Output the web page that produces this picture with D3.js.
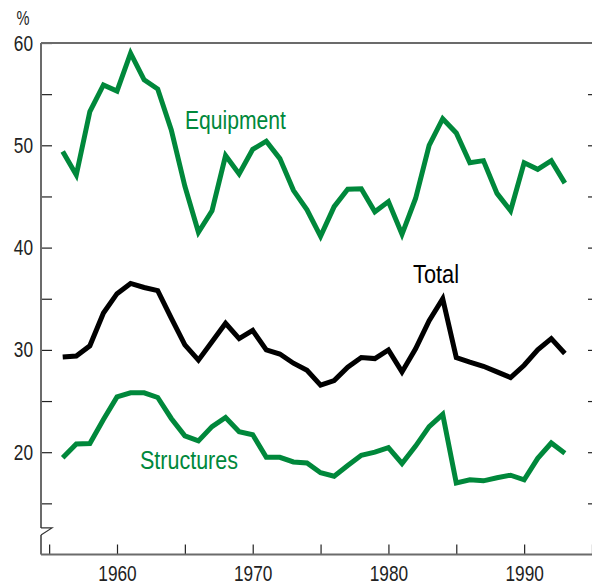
<!DOCTYPE html>
<html>
<head>
<meta charset="utf-8">
<script src="https://cdn.jsdelivr.net/npm/d3@7"></script>
<style>
  html, body { margin: 0; padding: 0; background: #fff; }
  svg text { font-family: 'Liberation Sans', Arial, sans-serif; }
</style>
</head>
<body>
<main></main>
<script>
// data: share of investment (%), 1956-1993
const years = d3.range(1956, 1994);
const equipment = [49.4, 47.1, 53.3, 55.9, 55.3, 59.0, 56.4, 55.5, 51.5, 46.0,
  41.5, 43.6, 49.0, 47.2, 49.6, 50.4, 48.7, 45.6, 43.7, 41.1,
  44.0, 45.7, 45.75, 43.5, 44.5, 41.3, 44.8, 50.0, 52.6, 51.2,
  48.3, 48.5, 45.3, 43.6, 48.3, 47.65, 48.5, 46.3];
const total = [29.3, 29.4, 30.4, 33.6, 35.5, 36.5, 36.1, 35.8, 33.1, 30.5,
  29.0, 30.8, 32.6, 31.1, 31.9, 30.0, 29.6, 28.7, 28.0, 26.55,
  27.0, 28.3, 29.25, 29.15, 30.0, 27.85, 30.1, 32.85, 35.0, 29.25,
  28.8, 28.4, 27.85, 27.3, 28.5, 30.0, 31.1, 29.65];
const structures = [19.45, 20.8, 20.85, 23.2, 25.4, 25.8, 25.8, 25.35, 23.3, 21.6,
  21.1, 22.5, 23.4, 22.0, 21.7, 19.5, 19.5, 19.05, 18.95, 18.0,
  17.65, 18.7, 19.7, 20.0, 20.45, 18.9, 20.6, 22.5, 23.7, 17.0,
  17.3, 17.2, 17.5, 17.75, 17.3, 19.4, 20.9, 19.9];
const yLabels = [20, 30, 40, 50, 60];
const yTicks = [15, 20, 25, 30, 35, 40, 45, 50, 55, 60];
const xLabels = [1960, 1970, 1980, 1990];
const xTicks = [1955, 1960, 1965, 1970, 1975, 1980, 1985, 1990, 1995];

const width = 592;
const height = 585;
const green = '#00883b';
const grey = '#6b6b6b';
const digitWidth = 9.6; // no condensed face installed, so squeeze the text
const textColor = '#222';

const svg = d3.select('main')
  .append('svg')
  .attr('width', width)
  .attr('height', height);

/************************************************************************
  scales
************************************************************************/
const xScale = d3.scaleLinear()
  .domain([1954.4, 1995])
  .range([41, 592]);

const yScale = d3.scaleLinear()
  .domain([10, 60])
  .range([554.5, 43]);

const plotLeft = xScale.range()[0];
const plotRight = xScale.range()[1];
const plotTop = yScale.range()[1];
const plotBottom = yScale.range()[0];

const squeeze = (selection) => selection
  .filter(function () { return this.textContent !== ''; })
  .attr('textLength', function () { return this.textContent.length * digitWidth; })
  .attr('lengthAdjust', 'spacingAndGlyphs');

/************************************************************************
  axes
************************************************************************/
// left axis: ticks point inward, labels only every 10
const yAxis = d3.axisLeft(yScale)
  .tickValues(yTicks)
  .tickSizeInner(-11)
  .tickSizeOuter(0)
  .tickPadding(8)
  .tickFormat(d => yLabels.includes(d) ? d : '');

const yAxisG = svg.append('g')
  .attr('transform', `translate(${plotLeft}, 0)`)
  .call(yAxis);
yAxisG.select('.domain').remove();
yAxisG.selectAll('line').attr('stroke', textColor).attr('stroke-width', 1.2);
yAxisG.selectAll('text')
  .attr('font-size', 22)
  .attr('fill', textColor)
  .call(squeeze);
yAxisG.attr('font-family', null);

// right side ticks (axis itself is off the edge)
const yAxisRight = d3.axisRight(yScale)
  .tickValues(yTicks.filter(d => d < 60))
  .tickSizeInner(-4)
  .tickSizeOuter(0)
  .tickFormat('');
const yRightG = svg.append('g')
  .attr('transform', `translate(${plotRight}, 0)`)
  .call(yAxisRight);
yRightG.select('.domain').remove();
yRightG.selectAll('line').attr('stroke', textColor).attr('stroke-width', 1.2);

// bottom axis: ticks point up
const xAxis = d3.axisBottom(xScale)
  .tickValues(xTicks)
  .tickSizeInner(-10)
  .tickSizeOuter(0)
  .tickPadding(11)
  .tickFormat(d => xLabels.includes(d) ? d : '');

const xAxisG = svg.append('g')
  .attr('transform', `translate(0, ${plotBottom})`)
  .call(xAxis);
xAxisG.select('.domain').remove();
xAxisG.selectAll('line').attr('stroke', textColor).attr('stroke-width', 1.2);
xAxisG.selectAll('text')
  .attr('font-size', 22)
  .attr('fill', textColor)
  .call(squeeze);
xAxisG.attr('font-family', null);

// frame lines: top, left (with a break), bottom
const breakTop = yScale(12.6);
const breakBottom = yScale(11.9);
const frame = [
  [[plotLeft, plotTop], [plotRight, plotTop]],
  [[plotLeft, plotTop], [plotLeft, breakTop]],
  [[plotLeft, breakBottom], [plotLeft, plotBottom]],
  [[plotLeft, plotBottom], [plotRight, plotBottom]]
];
svg.selectAll('.frame')
  .data(frame)
  .enter()
  .append('path')
  .attr('class', 'frame')
  .attr('d', d3.line())
  .attr('fill', 'none')
  .attr('stroke', grey)
  .attr('stroke-width', 2);

// axis break mark
svg.append('path')
  .attr('d', d3.line()([[plotLeft, breakTop], [plotLeft + 11, breakTop], [plotLeft, breakBottom]]))
  .attr('fill', 'none')
  .attr('stroke', '#333')
  .attr('stroke-width', 1.2);

svg.append('text')
  .text('%')
  .attr('x', 23)
  .attr('y', 25)
  .attr('text-anchor', 'middle')
  .attr('font-size', 20)
  .attr('textLength', 13)
  .attr('lengthAdjust', 'spacingAndGlyphs')
  .attr('fill', textColor);

/************************************************************************
  lines
************************************************************************/
const series = [
  { name: 'Equipment', values: equipment, color: green, lx: 185, ly: 129, len: 101 },
  { name: 'Total', values: total, color: '#000', lx: 413, ly: 283, len: 46 },
  { name: 'Structures', values: structures, color: green, lx: 140, ly: 469, len: 98 }
];

const line = d3.line()
  .x((d, i) => xScale(years[i]))
  .y(d => yScale(d));

series.forEach(s => {
  svg.append('path')
    .attr('d', line(s.values))
    .attr('fill', 'none')
    .attr('stroke', s.color)
    .attr('stroke-width', 5)
    .attr('stroke-linejoin', 'miter')
    .attr('stroke-miterlimit', 3);

  svg.append('text')
    .text(s.name)
    .attr('x', s.lx)
    .attr('y', s.ly)
    .attr('font-size', 25)
    .attr('textLength', s.len)
    .attr('lengthAdjust', 'spacingAndGlyphs')
    .attr('fill', s.color);
});
</script>
</body>
</html>
